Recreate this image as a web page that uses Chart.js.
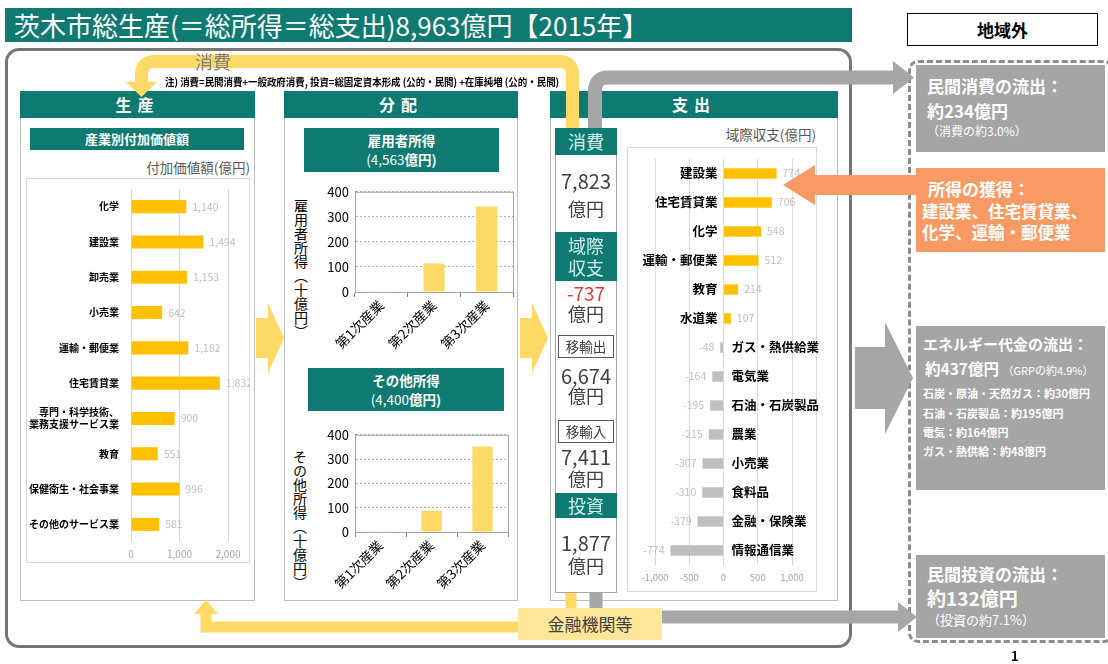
<!DOCTYPE html>
<html lang="ja">
<head>
<meta charset="utf-8">
<title>茨木市総生産</title>
<script src="https://cdn.jsdelivr.net/npm/chart.js@4.4.1/dist/chart.umd.min.js"></script>
<style>
  body { margin: 0; }
  #page { position: relative; width: 1108px; height: 664px; background: #fff; overflow: hidden;
          font-family: 'Noto Sans CJK JP', sans-serif; color: #404040; }
  .abs { position: absolute; box-sizing: border-box; }
  .teal { background: #0E7A72; color: #fff; text-align: center; font-weight: bold; }
  .panel { border: 1px solid #BFBFBF; background: #fff; }
  .head { font-size: 16px; line-height: 27px; height: 27px; letter-spacing: 6px; }
  .col { text-align: center; }
  .lite { color: #D5EEEB; font-weight: normal; font-size: 18px; }
  .gbox { background: #A5A5A5; color: #fff; font-weight: bold; }
  .vt { writing-mode: vertical-rl; font-size: 14px; color: #000; line-height: 15px; }
  svg { position: absolute; left: 0; top: 0; }
</style>
</head>
<body>
<div id="page">
  <div class="abs teal" style="left:5px;top:8px;width:847px;height:34px;text-align:left;font-weight:normal;font-size:26px;line-height:34px;padding-left:9px;white-space:nowrap;">茨木市総生産(＝総所得＝総支出)8,963億円【2015年】</div>
  <div class="abs" style="left:907px;top:13px;width:191px;height:33px;border:1px solid #000;text-align:center;font-weight:bold;font-size:17px;line-height:31px;color:#000;">地域外</div>
  <div class="abs" style="left:5px;top:48px;width:847px;height:600px;border:3px solid #767676;border-radius:14px;"></div>
  <div class="abs" style="left:908px;top:60px;width:206px;height:583px;border:3px dashed #8C8C8C;border-radius:10px;"></div>

  <!-- 生産 -->
  <div class="abs panel" style="left:20px;top:91px;width:235px;height:510px;"></div>
  <div class="abs teal head" style="left:20px;top:91px;width:235px;">生産</div>
  <div class="abs teal" style="left:30px;top:128px;width:214px;height:22px;font-size:13px;line-height:22px;">産業別付加価値額</div>
  <div class="abs" style="left:100px;top:157px;width:150px;text-align:right;font-size:13.5px;color:#595959;">付加価値額(億円)</div>
  <div class="abs" style="left:26px;top:178px;width:224px;height:385px;border:1px solid #D9D9D9;"><canvas id="prodChart"></canvas></div>

  <!-- 分配 -->
  <div class="abs panel" style="left:284px;top:91px;width:234px;height:510px;"></div>
  <div class="abs teal head" style="left:284px;top:91px;width:234px;">分配</div>
  <div class="abs teal" style="left:304px;top:128px;width:195px;height:44px;font-size:13.5px;line-height:19px;padding-top:3px;">雇用者所得<br><span style="font-weight:normal">(4,563</span>億円)</div>
  <div class="abs vt" style="left:293px;top:199px;">雇用者所得（十億円）</div>
  <div class="abs" style="left:320px;top:178px;width:200px;height:176px;"><canvas id="empChart"></canvas></div>
  <div class="abs teal" style="left:308px;top:368px;width:196px;height:43px;font-size:13.5px;line-height:19px;padding-top:3px;">その他所得<br><span style="font-weight:normal">(4,400</span>億円)</div>
  <div class="abs vt" style="left:292px;top:450px;">その他所得（十億円）</div>
  <div class="abs" style="left:320px;top:421px;width:200px;height:174px;"><canvas id="othChart"></canvas></div>

  <!-- 支出 -->
  <div class="abs panel" style="left:550px;top:91px;width:288px;height:510px;"></div>
  <div class="abs teal head" style="left:550px;top:91px;width:288px;">支出</div>
  <div class="abs" style="left:555px;top:128px;width:62px;height:465px;border:1px solid #A6A6A6;"></div>
  <div class="abs" style="left:680px;top:124px;width:136px;text-align:right;font-size:13.5px;color:#595959;">域際収支(億円)</div>
  <div class="abs" style="left:627px;top:147px;width:190px;height:445px;border:1px solid #D9D9D9;"></div>
  <div class="abs" style="left:627px;top:147px;width:211px;height:445px;"><canvas id="balChart"></canvas></div>

  <svg width="1108" height="664">
    <!-- top arrows -->
    <path d="M572.5 128 V75 Q572.5 61.5 559 61.5 H155 Q141.5 61.5 141.5 75 V83" fill="none" stroke="#FFD966" stroke-width="13"/>
    <polygon points="126,82 157,82 141.5,97" fill="#FFD966"/>
    <path d="M595 128 V91 Q595 77.5 608.5 77.5 H895" fill="none" stroke="#A6A6A6" stroke-width="14"/>
    <polygon points="893,61 914,77.5 893,94" fill="#A6A6A6"/>
    <!-- bottom arrows -->
    <path d="M571 593 V627 H206 V612" fill="none" stroke="#FFD966" stroke-width="11"/>
    <polygon points="194,614 218,614 206,600" fill="#FFD966"/>
    <path d="M596 593 V617 H900" fill="none" stroke="#A6A6A6" stroke-width="13"/>
    <polygon points="898,602 917,617 898,632" fill="#A6A6A6"/>
    <!-- block arrows -->
    <polygon points="256,318 268,318 268,303 284,338 268,373 268,358 256,358" fill="#FFD966"/>
    <polygon points="520,318 532,318 532,303 548,338 532,373 532,358 520,358" fill="#FFD966"/>
    <polygon points="855,347 885,347 885,322 913,378 885,434 885,409 855,409" fill="#A6A6A6"/>
    <polygon points="917,175 815,175 815,165 783,185 815,205 815,195 917,195" fill="#F79A63"/>
  </svg>

  <div class="abs" style="left:195px;top:48px;font-size:18px;color:#7F7F7F;">消費</div>
  <div class="abs" style="left:165px;top:74px;font-size:10.5px;font-weight:bold;color:#000;white-space:nowrap;transform:scaleX(0.9);transform-origin:left;">注) 消費=民間消費+一般政府消費, 投資=総固定資本形成 (公的・民間) +在庫純増 (公的・民間)</div>

  <!-- 支出 column -->
  <div class="abs teal lite" style="left:555px;top:128px;width:62px;height:27px;line-height:27px;">消費</div>
  <div class="abs col" style="left:555px;top:169px;width:62px;font-size:20px;line-height:24px;">7,823</div>
  <div class="abs col" style="left:555px;top:197px;width:62px;font-size:18px;line-height:22px;">億円</div>
  <div class="abs teal lite" style="left:555px;top:232px;width:62px;height:49px;line-height:22px;padding-top:2px;">域際<br>収支</div>
  <div class="abs col" style="left:555px;top:282px;width:62px;font-size:19px;line-height:22px;color:#E5393B;">-737</div>
  <div class="abs col" style="left:555px;top:302px;width:62px;font-size:18px;line-height:22px;">億円</div>
  <div class="abs col" style="left:558px;top:335px;width:56px;height:23px;border:1px solid #595959;font-size:13.5px;line-height:21px;">移輸出</div>
  <div class="abs col" style="left:555px;top:364px;width:62px;font-size:20px;line-height:24px;">6,674</div>
  <div class="abs col" style="left:555px;top:384px;width:62px;font-size:18px;line-height:22px;">億円</div>
  <div class="abs col" style="left:558px;top:420px;width:56px;height:23px;border:1px solid #595959;font-size:13.5px;line-height:21px;">移輸入</div>
  <div class="abs col" style="left:555px;top:445px;width:62px;font-size:20px;line-height:24px;">7,411</div>
  <div class="abs col" style="left:555px;top:467px;width:62px;font-size:18px;line-height:22px;">億円</div>
  <div class="abs teal lite" style="left:555px;top:493px;width:62px;height:25px;line-height:25px;">投資</div>
  <div class="abs col" style="left:555px;top:531px;width:62px;font-size:20px;line-height:24px;">1,877</div>
  <div class="abs col" style="left:555px;top:554px;width:62px;font-size:18px;line-height:22px;">億円</div>

  <div class="abs" style="left:518px;top:608px;width:144px;height:32px;background:#FFE699;text-align:center;font-size:17px;line-height:32px;">金融機関等</div>

  <!-- 地域外 boxes -->
  <div class="abs gbox" style="left:916px;top:65px;width:189px;height:87px;padding:8px 0 0 11px;">
    <div style="font-size:17px;line-height:25px;">民間消費の流出：</div>
    <div style="font-size:17px;line-height:25px;">約234億円</div>
    <div style="font-size:12px;line-height:16px;font-weight:normal;">（消費の約3.0%）</div>
  </div>
  <div class="abs" style="left:916px;top:168px;width:189px;height:84px;background:#F79A63;color:#fff;font-weight:bold;padding:9px 0 0 6px;">
    <div style="font-size:17px;line-height:24px;padding-left:6px;">所得の獲得：</div>
    <div style="font-size:16.5px;line-height:21px;white-space:nowrap;">建設業、住宅賃貸業、<br>化学、運輸・郵便業</div>
  </div>
  <div class="abs gbox" style="left:916px;top:326px;width:189px;height:164px;padding:7px 0 0 7px;white-space:nowrap;">
    <div style="font-size:15px;line-height:22px;">エネルギー代金の流出：</div>
    <div style="font-size:15.5px;line-height:26px;padding-left:2px;">約437億円 <span style="font-size:11px;font-weight:normal;">（GRPの約4.9%）</span></div>
    <div style="font-size:11px;line-height:20px;">石炭・原油・天然ガス：約30億円</div>
    <div style="font-size:11px;line-height:20px;">石油・石炭製品：約195億円</div>
    <div style="font-size:11px;line-height:19px;">電気：約164億円</div>
    <div style="font-size:11px;line-height:19px;">ガス・熱供給：約48億円</div>
  </div>
  <div class="abs gbox" style="left:916px;top:555px;width:189px;height:83px;padding:7px 0 0 11px;">
    <div style="font-size:17px;line-height:24px;">民間投資の流出：</div>
    <div style="font-size:19px;line-height:24px;">約132億円</div>
    <div style="font-size:13px;line-height:20px;font-weight:normal;">（投資の約7.1%）</div>
  </div>
  <div class="abs" style="left:1011px;top:646px;font-size:13px;font-weight:bold;color:#000;">1</div>
</div>

<script>
const prodLabels = ['化学', '建設業', '卸売業', '小売業', '運輸・郵便業', '住宅賃貸業',
  ['専門・科学技術、', '業務支援サービス業'], '教育', '保健衛生・社会事業', 'その他のサービス業'];
const prodValues = [1140, 1494, 1153, 642, 1182, 1832, 900, 551, 996, 581];

const sectorLabels = ['第1次産業', '第2次産業', '第3次産業'];
const employeeIncome = [1, 114, 341];
const otherIncome = [1, 87, 352];

const balanceLabels = ['建設業', '住宅賃貸業', '化学', '運輸・郵便業', '教育', '水道業', 'ガス・熱供給業',
  '電気業', '石油・石炭製品', '農業', '小売業', '食料品', '金融・保険業', '情報通信業'];
const balanceValues = [774, 706, 548, 512, 214, 107, -48, -164, -195, -215, -307, -310, -379, -774];

const FONT = "'Noto Sans CJK JP', sans-serif";
Chart.defaults.font.family = FONT;
Chart.defaults.animation = false;
Chart.defaults.plugins.legend.display = false;
Chart.defaults.plugins.tooltip.enabled = false;

const fmt = v => Number(v).toLocaleString('en-US');

// number labels next to the bar ends
const valueLabels = {
    id: 'valueLabels',
    afterDatasetsDraw(chart, args, opts) {
        const ctx = chart.ctx;
        const data = chart.data.datasets[0].data;
        ctx.save();
        ctx.font = opts.font;
        ctx.fillStyle = '#BFBFBF';
        ctx.textBaseline = 'middle';
        chart.getDatasetMeta(0).data.forEach((bar, i) => {
            const v = data[i];
            ctx.textAlign = v >= 0 ? 'left' : 'right';
            ctx.fillText(fmt(v), bar.x + (v >= 0 ? 6 : -6), bar.y);
        });
        ctx.restore();
    }
};

// category names on the opposite side of zero
const sideLabels = {
    id: 'sideLabels',
    afterDatasetsDraw(chart) {
        const ctx = chart.ctx;
        const zero = chart.scales.x.getPixelForValue(0);
        const data = chart.data.datasets[0].data;
        ctx.save();
        ctx.font = 'bold 12.5px ' + FONT;
        ctx.fillStyle = '#000';
        ctx.textBaseline = 'middle';
        chart.getDatasetMeta(0).data.forEach((bar, i) => {
            const pos = data[i] >= 0;
            ctx.textAlign = pos ? 'right' : 'left';
            ctx.fillText(chart.data.labels[i], zero + (pos ? -6 : 8), bar.y);
        });
        ctx.restore();
    }
};

const plotBorder = {
    id: 'plotBorder',
    afterDraw(chart) {
        const a = chart.chartArea;
        const ctx = chart.ctx;
        ctx.save();
        ctx.strokeStyle = '#A6A6A6';
        ctx.lineWidth = 1;
        ctx.strokeRect(a.left + 0.5, a.top + 0.5, a.right - a.left, a.bottom - a.top);
        ctx.restore();
    }
};

new Chart(document.getElementById('prodChart'), {
    type: 'bar',
    data: {
        labels: prodLabels,
        datasets: [{ data: prodValues, backgroundColor: '#FFC000', barPercentage: 0.37, categoryPercentage: 1 }]
    },
    options: {
        indexAxis: 'y',
        responsive: true,
        maintainAspectRatio: false,
        layout: { padding: { top: 5, right: 21, left: 0, bottom: 0 } },
        scales: {
            x: {
                min: 0, max: 2000,
                ticks: { stepSize: 1000, color: '#A6A6A6', font: { size: 10 }, padding: 6, maxRotation: 0, callback: v => fmt(v) },
                grid: { color: '#D9D9D9', drawTicks: false },
                border: { display: false },
                afterFit: s => { s.height = 20; }
            },
            y: {
                ticks: { color: '#000', font: { size: 10, weight: 'bold' }, padding: 4 },
                grid: { display: false },
                border: { display: false },
                afterFit: s => { s.width = 104; }
            }
        },
        plugins: { valueLabels: { font: '10.5px ' + FONT } }
    },
    plugins: [valueLabels]
});

function sectorChart(id, values, xHeight, padRight) {
    new Chart(document.getElementById(id), {
        type: 'bar',
        data: {
            labels: sectorLabels,
            datasets: [{ data: values, backgroundColor: '#FFD966', barPercentage: 0.4, categoryPercentage: 1 }]
        },
        options: {
            responsive: true,
            maintainAspectRatio: false,
            layout: { padding: { top: 10, right: padRight, left: 0, bottom: 0 } },
            scales: {
                x: {
                    ticks: { color: '#000', font: { size: 13.5 }, minRotation: 45, maxRotation: 45, padding: 0 },
                    grid: { drawOnChartArea: false, color: '#808080', tickLength: 5 },
                    border: { color: '#808080' },
                    afterFit: s => { s.height = xHeight; }
                },
                y: {
                    min: 0, max: 400,
                    ticks: { stepSize: 100, color: '#000', font: { size: 13 }, padding: 6 },
                    grid: { color: '#B0B0B0', drawTicks: false },
                    border: { color: '#808080', dash: [2, 2] },
                    afterFit: s => { s.width = 35; }
                }
            }
        },
        plugins: [plotBorder]
    });
}
sectorChart('empChart', employeeIncome, 62, 7);
sectorChart('othChart', otherIncome, 63, 12);

new Chart(document.getElementById('balChart'), {
    type: 'bar',
    data: {
        labels: balanceLabels,
        datasets: [{
            data: balanceValues,
            backgroundColor: balanceValues.map(v => v >= 0 ? '#FFC000' : '#BFBFBF'),
            barPercentage: 0.36, categoryPercentage: 1
        }]
    },
    options: {
        indexAxis: 'y',
        responsive: true,
        maintainAspectRatio: false,
        layout: { padding: { top: 12, right: 46, left: 28, bottom: 0 } },
        scales: {
            x: {
                min: -1000, max: 1000,
                ticks: { stepSize: 500, color: '#A6A6A6', font: { size: 9.5 }, padding: 7,
                         maxRotation: 0, minRotation: 0, autoSkip: false, callback: v => fmt(v) },
                grid: { color: '#D9D9D9', drawTicks: false },
                border: { display: false },
                afterFit: s => { s.height = 27; }
            },
            y: { display: false }
        },
        plugins: { valueLabels: { font: '10.5px ' + FONT } }
    },
    plugins: [valueLabels, sideLabels]
});
</script>
</body>
</html>
